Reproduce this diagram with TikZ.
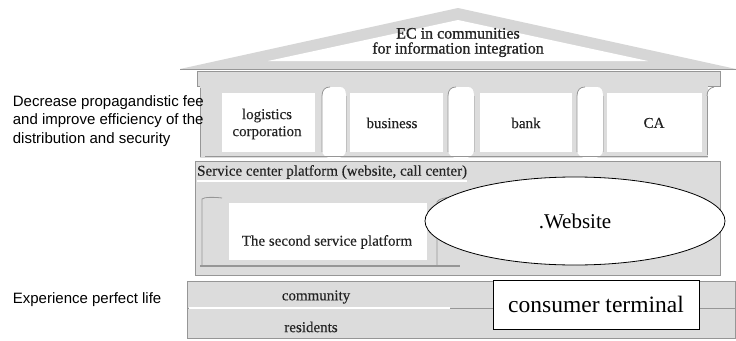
\documentclass[tikz,border=0pt]{standalone}
\usepackage{fontspec}
\setmainfont{Liberation Serif}
\newfontfamily\sansf{Liberation Sans}
\newfontfamily\heavyserif[FakeBold=0.9]{Liberation Serif}
\newfontfamily\midserif[FakeBold=0.25]{Liberation Serif}
\usetikzlibrary{shapes.geometric}
\definecolor{slab}{RGB}{220,220,220}
\definecolor{roofc}{RGB}{214,214,214}
\definecolor{edge}{RGB}{150,150,150}
\definecolor{ink}{RGB}{35,35,35}
\begin{document}
\begin{tikzpicture}[x=1pt,y=-1pt,
  slabs/.style={fill=slab, draw=edge, line width=0.6pt},
  lbl/.style={font=\midserif\fontsize{15}{17}\selectfont, text=ink, inner sep=0pt, align=center},
  note/.style={font=\sansf\fontsize{15}{18.5}\selectfont, align=left, anchor=west, inner sep=0pt},
  colline/.style={draw=edge, line width=0.8pt}]
\useasboundingbox[fill=white] (0,0) rectangle (736,340);
% roof
\path[fill=roofc] (180,69) -- (458,8) -- (736,69) -- cycle;
\path[fill=white] (268,61) -- (458,20) -- (648,61) -- cycle;
\draw[edge, line width=1.2pt] (180,69.5) -- (736,69.5);
\node[lbl, font=\heavyserif\fontsize{16}{15}\selectfont] (title) at (458,42.5) {EC in communities\\for information integration};
% architrave
\path[slabs] (197,71) rectangle (720,86);
% column row
\path[fill=slab] (200,86) rectangle (708,158);
\draw[colline] (200,88) -- (200,157);
\draw[colline] (707,96) .. controls (707,90) and (710,88) .. (714,87);
\draw[colline] (707,96) -- (707,155);
\foreach \l/\r in {322/346, 448/474, 577/603}{
  \path[fill=white] (\l,150) -- (\l,96) .. controls (\l,90) and (\l+3,87) .. (\l+8,87) -- (\r-6,87)
     .. controls (\r-2,87) and (\r,90) .. (\r,96) -- (\r,150)
     .. controls (\r,155) and (\r-4,158) .. ({(\l+\r)/2},160)
     .. controls (\l+4,158) and (\l,155) .. (\l,150) -- cycle;
  \draw[colline] (\l,152) -- (\l,96) .. controls (\l,90) and (\l+3,87) .. (\l+8,87);
  \draw[colline, draw=edge!60] (\r,152) -- (\r,96);
}
\path[fill=white] (222,93) rectangle (315,152);
\path[fill=white] (350,93) rectangle (443,152);
\path[fill=white] (480,93) rectangle (572,152);
\path[fill=white] (607,93) rectangle (702,152);
\draw[edge, line width=1pt] (205,156.5) -- (708,156.5);
\node[lbl] (logi) at (267,124) {logistics\\corporation};
\node[lbl] (bus) at (392,123) {business};
\node[lbl] (bank) at (526,123) {bank};
\node[lbl] (ca) at (654,123) {CA};
% service center block
\path[slabs] (195,161) rectangle (720,275);
\draw[white, line width=1.2pt] (197,181) -- (467,181);
\node[lbl, anchor=west] (svc) at (197,172) {Service center platform (website, call center)};
\draw[colline] (202,265) -- (202,199) .. controls (204,197) and (214,197) .. (222,198);
\draw[colline] (437,265) -- (437,202) .. controls (438,199) and (446,197) .. (455,197);
\path[fill=white] (229,203) rectangle (427,260);
\draw[edge, line width=1.2pt] (200,266) -- (460,266);
\node[lbl] (second) at (327,242) {The second service platform};
\node[ellipse, draw=black, line width=0.8pt, fill=white, minimum width=300pt, minimum height=88pt,
  inner sep=0pt, font=\fontsize{21}{21}\selectfont] (web) at (575,221) {.Website};
% ground bands
\path[slabs] (187,281) rectangle (735,308);
\path[slabs] (187,308) rectangle (735,338);
\draw[white, line width=1.2pt] (189,308) -- (450,308);
\node[lbl] (comm) at (316,297) {community};
\node[lbl] (res) at (311,327) {residents};
\node[draw=black, line width=0.8pt, fill=white, minimum width=206pt, minimum height=49pt, inner sep=0pt,
  font=\fontsize{23.5}{23.5}\selectfont] (term) at (596,304.5) {consumer terminal};
% left notes
\node[note] (dec) at (12.7,121) {Decrease propagandistic fee\\and improve efficiency of the\\distribution and security};
\node[note] (exp) at (12.7,300) {Experience perfect life};
\end{tikzpicture}
\end{document}
